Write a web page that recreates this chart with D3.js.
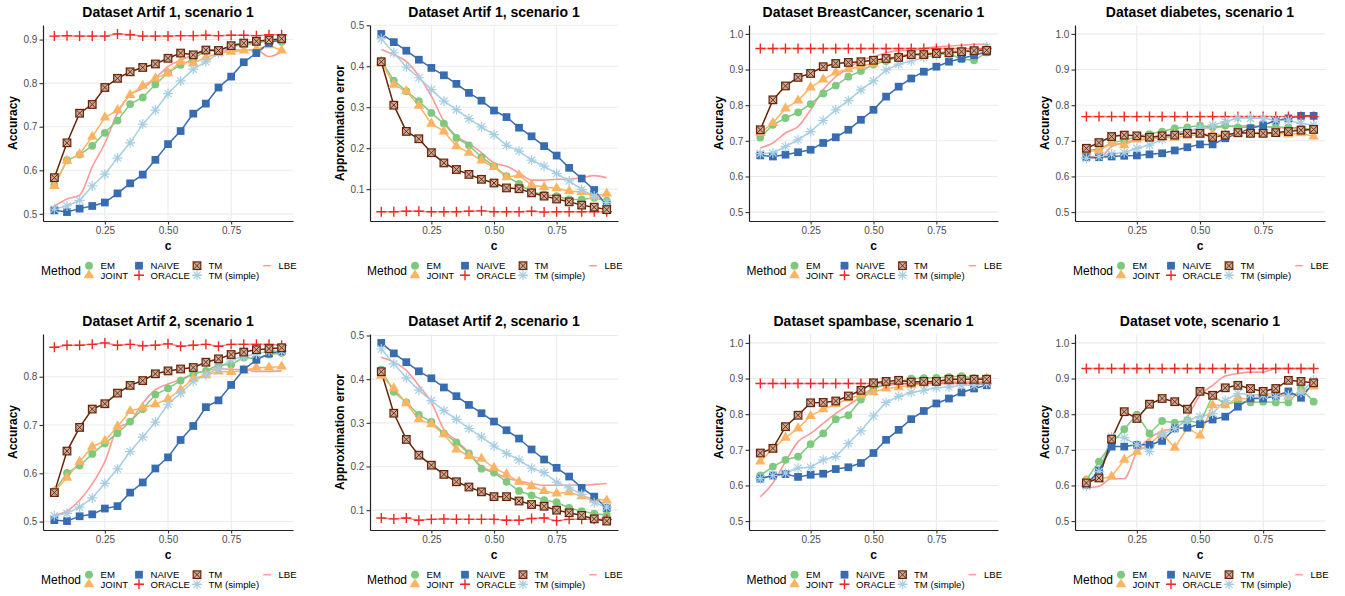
<!DOCTYPE html>
<html><head><meta charset="utf-8">
<script src="https://cdn.jsdelivr.net/npm/d3@7"></script>
<style>
body{margin:0;background:#fff}
svg{display:block}
text{font-family:"Liberation Sans",Arial,Helvetica,sans-serif}
</style>
</head><body>
<svg id="chart" width="1345" height="596"></svg>
<script>
// ---------------- DATA ----------------
const cValues = [0.05,0.10,0.15,0.20,0.25,0.30,0.35,0.40,0.45,0.50,0.55,0.60,0.65,0.70,0.75,0.80,0.85,0.90,0.95];
const methods = ["EM","JOINT","NAIVE","ORACLE","TM","TM (simple)","LBE"];
const xTickValues = [0.25,0.50,0.75];
const panelTitles = ["Dataset Artif 1, scenario 1","Dataset Artif 1, scenario 1","Dataset BreastCancer, scenario 1","Dataset diabetes, scenario 1",
                     "Dataset Artif 2, scenario 1","Dataset Artif 2, scenario 1","Dataset spambase, scenario 1","Dataset vote, scenario 1"];
const panelYLabels = ["Accuracy","Approximation error","Accuracy","Accuracy","Accuracy","Approximation error","Accuracy","Accuracy"];
const yTicksArtifAcc1 = [0.5,0.6,0.7,0.8,0.9];
const yTicksArtifAcc2 = [0.5,0.6,0.7,0.8];
const yTicksError = [0.1,0.2,0.3,0.4,0.5];
const yTicksReal = [0.5,0.6,0.7,0.8,0.9,1.0];
const yLimitsReal = [0.5,1.0];

// Panel 1: Artif 1 accuracy
const p1_EM     = [0.567,0.623,0.636,0.656,0.686,0.714,0.752,0.767,0.797,0.824,0.842,0.855,0.876,0.875,0.884,0.888,0.892,0.898,0.895];
const p1_JOINT  = [0.564,0.622,0.637,0.677,0.721,0.738,0.773,0.794,0.811,0.823,0.849,0.846,0.859,0.869,0.872,0.875,0.878,0.887,0.875];
const p1_NAIVE  = [0.508,0.504,0.512,0.518,0.526,0.547,0.570,0.590,0.624,0.660,0.690,0.730,0.753,0.790,0.815,0.848,0.869,0.892,0.901];
const p1_ORACLE = [0.908,0.909,0.908,0.908,0.908,0.913,0.911,0.908,0.908,0.908,0.909,0.909,0.910,0.909,0.910,0.910,0.909,0.911,0.911];
const p1_TM     = [0.583,0.663,0.731,0.751,0.790,0.811,0.826,0.836,0.844,0.857,0.869,0.865,0.876,0.875,0.886,0.892,0.896,0.899,0.902];
const p1_TMS    = [0.511,0.518,0.531,0.564,0.591,0.628,0.663,0.706,0.738,0.776,0.805,0.832,0.849,0.869,0.884,0.892,0.895,0.899,0.901];
const p1_LBE    = [0.518,0.534,0.543,0.608,0.662,0.731,0.773,0.788,0.811,0.838,0.853,0.865,0.876,0.872,0.876,0.876,0.876,0.861,0.872];

// Panel 2: Artif 1 approximation error
const p2_EM     = [0.414,0.365,0.339,0.315,0.286,0.260,0.225,0.207,0.178,0.156,0.132,0.113,0.093,0.087,0.083,0.075,0.075,0.079,0.072];
const p2_JOINT  = [0.411,0.355,0.339,0.304,0.260,0.241,0.205,0.189,0.170,0.154,0.129,0.134,0.110,0.105,0.102,0.095,0.093,0.083,0.089];
const p2_NAIVE  = [0.479,0.459,0.438,0.416,0.396,0.378,0.357,0.335,0.316,0.292,0.276,0.250,0.229,0.205,0.182,0.152,0.126,0.098,0.061];
const p2_ORACLE = [0.045,0.045,0.046,0.046,0.045,0.045,0.045,0.046,0.047,0.045,0.045,0.045,0.046,0.044,0.045,0.045,0.045,0.045,0.045];
const p2_TM     = [0.411,0.305,0.241,0.223,0.189,0.164,0.148,0.136,0.124,0.115,0.103,0.101,0.091,0.083,0.076,0.069,0.061,0.056,0.050];
const p2_TMS    = [0.467,0.433,0.398,0.372,0.343,0.315,0.294,0.272,0.252,0.233,0.207,0.193,0.171,0.156,0.138,0.120,0.099,0.083,0.067];
const p2_LBE    = [0.441,0.428,0.412,0.376,0.327,0.266,0.229,0.211,0.189,0.164,0.156,0.140,0.122,0.122,0.124,0.124,0.128,0.133,0.128];

// Panel 3: BreastCancer accuracy
const p3_EM     = [0.709,0.745,0.764,0.780,0.803,0.833,0.855,0.880,0.896,0.914,0.924,0.936,0.942,0.942,0.945,0.945,0.929,0.926,0.948];
const p3_JOINT  = [0.722,0.750,0.791,0.813,0.850,0.872,0.892,0.901,0.910,0.917,0.929,0.939,0.943,0.945,0.948,0.950,0.953,0.954,0.959];
const p3_NAIVE  = [0.659,0.656,0.661,0.668,0.675,0.694,0.710,0.731,0.759,0.787,0.824,0.852,0.875,0.894,0.908,0.922,0.931,0.940,0.950];
const p3_ORACLE = [0.959,0.959,0.959,0.959,0.959,0.959,0.959,0.959,0.959,0.959,0.959,0.959,0.959,0.959,0.959,0.959,0.959,0.959,0.959];
const p3_TM     = [0.731,0.815,0.854,0.878,0.889,0.908,0.917,0.920,0.922,0.926,0.931,0.934,0.942,0.942,0.945,0.947,0.950,0.953,0.954];
const p3_TMS    = [0.664,0.666,0.684,0.703,0.726,0.757,0.787,0.813,0.843,0.868,0.899,0.915,0.924,0.934,0.940,0.945,0.950,0.954,0.964];
const p3_LBE    = [0.680,0.694,0.722,0.740,0.787,0.843,0.880,0.903,0.926,0.936,0.947,0.953,0.954,0.959,0.964,0.966,0.968,0.971,0.971];

// Panel 4: diabetes accuracy
const p4_EM     = [0.673,0.676,0.695,0.701,0.712,0.719,0.726,0.735,0.738,0.743,0.738,0.743,0.738,0.738,0.740,0.738,0.738,0.735,0.732];
const p4_JOINT  = [0.670,0.673,0.693,0.688,0.704,0.707,0.710,0.709,0.714,0.718,0.719,0.716,0.721,0.721,0.719,0.721,0.718,0.721,0.712];
const p4_NAIVE  = [0.654,0.654,0.656,0.658,0.659,0.662,0.665,0.673,0.682,0.690,0.690,0.707,0.721,0.735,0.744,0.757,0.763,0.770,0.770];
const p4_ORACLE = [0.768,0.768,0.768,0.768,0.768,0.768,0.768,0.768,0.768,0.768,0.768,0.768,0.768,0.768,0.768,0.768,0.768,0.768,0.768];
const p4_TM     = [0.679,0.695,0.712,0.716,0.714,0.710,0.714,0.716,0.721,0.721,0.710,0.716,0.723,0.721,0.721,0.723,0.726,0.730,0.732];
const p4_TMS    = [0.651,0.656,0.663,0.667,0.679,0.688,0.704,0.718,0.726,0.735,0.744,0.754,0.763,0.763,0.763,0.758,0.758,0.749,0.744];
const p4_LBE    = [0.651,0.651,0.684,0.695,0.702,0.704,0.712,0.721,0.728,0.735,0.737,0.740,0.742,0.742,0.740,0.738,0.735,0.732,0.732];

// Panel 5: Artif 2 accuracy
const p5_EM     = [0.563,0.601,0.616,0.640,0.662,0.683,0.707,0.733,0.763,0.776,0.792,0.806,0.812,0.825,0.825,0.840,0.837,0.846,0.849];
const p5_JOINT  = [0.562,0.591,0.624,0.655,0.667,0.697,0.729,0.736,0.743,0.754,0.773,0.796,0.803,0.811,0.810,0.813,0.819,0.819,0.821];
const p5_NAIVE  = [0.503,0.501,0.511,0.515,0.527,0.532,0.560,0.581,0.610,0.633,0.669,0.698,0.737,0.751,0.783,0.815,0.835,0.848,0.853];
const p5_ORACLE = [0.861,0.865,0.865,0.867,0.870,0.865,0.867,0.864,0.865,0.868,0.863,0.865,0.867,0.863,0.867,0.867,0.867,0.867,0.865];
const p5_TM     = [0.560,0.646,0.695,0.733,0.744,0.766,0.782,0.792,0.806,0.812,0.816,0.819,0.830,0.837,0.846,0.851,0.856,0.858,0.860];
const p5_TMS    = [0.512,0.517,0.530,0.549,0.579,0.609,0.645,0.675,0.706,0.743,0.766,0.790,0.804,0.818,0.835,0.842,0.847,0.853,0.853];
const p5_LBE    = [0.513,0.522,0.544,0.578,0.624,0.693,0.707,0.745,0.773,0.785,0.794,0.806,0.812,0.817,0.815,0.815,0.811,0.811,0.812];

// Panel 6: Artif 2 approximation error
const p6_EM     = [0.422,0.371,0.347,0.318,0.302,0.276,0.255,0.230,0.195,0.186,0.165,0.144,0.134,0.123,0.118,0.105,0.098,0.092,0.089];
const p6_JOINT  = [0.408,0.379,0.345,0.308,0.297,0.274,0.239,0.224,0.218,0.197,0.182,0.165,0.155,0.144,0.138,0.141,0.132,0.126,0.122];
const p6_NAIVE  = [0.483,0.459,0.439,0.418,0.402,0.381,0.361,0.341,0.322,0.303,0.283,0.264,0.239,0.216,0.197,0.177,0.151,0.131,0.105];
const p6_ORACLE = [0.082,0.080,0.082,0.077,0.079,0.080,0.079,0.079,0.079,0.079,0.077,0.077,0.081,0.082,0.076,0.079,0.079,0.079,0.079];
const p6_TM     = [0.417,0.322,0.262,0.226,0.203,0.182,0.165,0.153,0.142,0.131,0.131,0.121,0.113,0.109,0.100,0.094,0.088,0.080,0.075];
const p6_TMS    = [0.469,0.435,0.403,0.375,0.351,0.328,0.308,0.287,0.268,0.247,0.230,0.215,0.196,0.186,0.164,0.151,0.136,0.117,0.107];
const p6_LBE    = [0.450,0.439,0.420,0.385,0.347,0.285,0.259,0.232,0.200,0.187,0.174,0.167,0.161,0.157,0.157,0.157,0.157,0.159,0.161];

// Panel 7: spambase accuracy
const p7_EM     = [0.628,0.653,0.672,0.681,0.716,0.746,0.786,0.797,0.841,0.872,0.884,0.890,0.900,0.901,0.902,0.904,0.907,0.901,0.902];
const p7_JOINT  = [0.667,0.704,0.734,0.760,0.795,0.814,0.828,0.844,0.853,0.862,0.872,0.876,0.881,0.886,0.890,0.895,0.898,0.898,0.900];
const p7_NAIVE  = [0.619,0.628,0.632,0.624,0.630,0.633,0.646,0.651,0.663,0.691,0.728,0.756,0.786,0.809,0.830,0.844,0.861,0.872,0.881];
const p7_ORACLE = [0.886,0.886,0.886,0.886,0.886,0.886,0.886,0.886,0.886,0.886,0.886,0.886,0.886,0.886,0.886,0.886,0.886,0.886,0.886];
const p7_TM     = [0.691,0.704,0.765,0.797,0.832,0.833,0.837,0.851,0.867,0.888,0.892,0.895,0.890,0.892,0.892,0.898,0.898,0.898,0.898];
const p7_TMS    = [0.619,0.628,0.635,0.649,0.651,0.672,0.681,0.718,0.753,0.795,0.833,0.850,0.861,0.867,0.874,0.876,0.881,0.881,0.886];
const p7_LBE    = [0.568,0.607,0.667,0.723,0.746,0.774,0.802,0.825,0.849,0.874,0.881,0.884,0.886,0.888,0.888,0.890,0.890,0.890,0.890];

// Panel 8: vote accuracy
const p8_EM     = [0.616,0.667,0.718,0.758,0.799,0.746,0.781,0.776,0.783,0.774,0.853,0.828,0.835,0.833,0.835,0.833,0.833,0.872,0.835];
const p8_JOINT  = [0.614,0.618,0.625,0.672,0.695,0.716,0.746,0.706,0.762,0.740,0.825,0.825,0.846,0.841,0.853,0.861,0.849,0.862,0.878];
const p8_NAIVE  = [0.602,0.642,0.709,0.709,0.714,0.714,0.725,0.760,0.762,0.772,0.785,0.793,0.821,0.844,0.844,0.851,0.864,0.846,0.888];
const p8_ORACLE = [0.928,0.928,0.928,0.928,0.928,0.928,0.928,0.928,0.928,0.928,0.928,0.928,0.928,0.928,0.928,0.928,0.928,0.928,0.928];
const p8_TM     = [0.607,0.621,0.730,0.807,0.788,0.828,0.844,0.835,0.814,0.864,0.853,0.874,0.881,0.872,0.864,0.872,0.895,0.892,0.888];
const p8_TMS    = [0.598,0.639,0.737,0.734,0.714,0.695,0.742,0.760,0.783,0.793,0.802,0.839,0.858,0.855,0.853,0.849,0.853,0.861,0.895];
const p8_LBE    = [0.593,0.598,0.619,0.619,0.695,0.732,0.753,0.760,0.793,0.853,0.881,0.907,0.914,0.918,0.918,0.928,0.928,0.928,0.928];

// ---------------- TABLE BUILT FROM ARRAYS ----------------
const panelSeries = [
  [p1_EM,p1_JOINT,p1_NAIVE,p1_ORACLE,p1_TM,p1_TMS,p1_LBE],
  [p2_EM,p2_JOINT,p2_NAIVE,p2_ORACLE,p2_TM,p2_TMS,p2_LBE],
  [p3_EM,p3_JOINT,p3_NAIVE,p3_ORACLE,p3_TM,p3_TMS,p3_LBE],
  [p4_EM,p4_JOINT,p4_NAIVE,p4_ORACLE,p4_TM,p4_TMS,p4_LBE],
  [p5_EM,p5_JOINT,p5_NAIVE,p5_ORACLE,p5_TM,p5_TMS,p5_LBE],
  [p6_EM,p6_JOINT,p6_NAIVE,p6_ORACLE,p6_TM,p6_TMS,p6_LBE],
  [p7_EM,p7_JOINT,p7_NAIVE,p7_ORACLE,p7_TM,p7_TMS,p7_LBE],
  [p8_EM,p8_JOINT,p8_NAIVE,p8_ORACLE,p8_TM,p8_TMS,p8_LBE]
];
const panelYTicks = [yTicksArtifAcc1,yTicksError,yTicksReal,yTicksReal,yTicksArtifAcc2,yTicksError,yTicksReal,yTicksReal];
const panelFixedLimits = [null,null,yLimitsReal,yLimitsReal,null,null,yLimitsReal,yLimitsReal];

// ---------------- STYLE / LAYOUT ----------------
const colors = {"EM":"#7FC97F","JOINT":"#FDB462","NAIVE":"#386CB0","ORACLE":"#EE2A24","TM":"#662506","TM (simple)":"#A6CEE3","LBE":"#FB9A99"};
const lineOrder  = ["LBE","TM (simple)","EM","JOINT","NAIVE","ORACLE","TM"];
const pointOrder = ["EM","JOINT","NAIVE","ORACLE","TM (simple)","TM"];
const colLeft  = [43,370,749,1075];
const colRight = [293,618,998,1325];
const rowTop    = [25,334];
const rowBottom = [221,530];

const svg = d3.select("#chart");
svg.append("rect").attr("width",1345).attr("height",596).attr("fill","#fff");

function expand(lo,hi){ const d=(hi-lo)*0.05; return [lo-d,hi+d]; }

function drawMarker(g, method, x, y){
  const col = colors[method];
  const m = g.append("g").attr("transform",`translate(${x},${y})`);
  if(method==="EM"){
    m.append("circle").attr("r",3.9).attr("fill",col);
  } else if(method==="JOINT"){
    m.append("path").attr("d",d3.symbol(d3.symbolTriangle,48)()).attr("fill",col);
  } else if(method==="NAIVE"){
    m.append("path").attr("d",d3.symbol(d3.symbolSquare,60)()).attr("fill",col);
  } else if(method==="ORACLE"){
    m.append("path").attr("d","M-5,0H5M0,-5V5").attr("stroke",col).attr("stroke-width",1.4).attr("fill","none");
  } else if(method==="TM"){
    m.append("rect").attr("x",-3.8).attr("y",-3.8).attr("width",7.6).attr("height",7.6)
      .attr("fill","#caa99b").attr("stroke",col).attr("stroke-width",1.2);
    m.append("path").attr("d","M-3.8,-3.8L3.8,3.8M-3.8,3.8L3.8,-3.8").attr("stroke",col).attr("stroke-width",0.9);
  } else if(method==="TM (simple)"){
    m.append("path").attr("d","M-5,0H5M0,-5V5M-3.6,-3.6L3.6,3.6M-3.6,3.6L3.6,-3.6")
      .attr("stroke",col).attr("stroke-width",1.2).attr("fill","none");
  }
}

panelSeries.forEach((series, pi) => {
  const col = pi % 4, row = Math.floor(pi/4);
  const L = colLeft[col], R = colRight[col], T = rowTop[row], B = rowBottom[row];
  const x = d3.scaleLinear().domain(expand(d3.min(cValues), d3.max(cValues))).range([L,R]);
  let yDom;
  if(panelFixedLimits[pi]) yDom = expand(panelFixedLimits[pi][0], panelFixedLimits[pi][1]);
  else yDom = expand(d3.min(series.flat()), d3.max(series.flat()));
  const y = d3.scaleLinear().domain(yDom).range([B,T]);
  const g = svg.append("g");

  // grid
  g.selectAll(".gx").data(xTickValues).join("line")
    .attr("x1",d=>x(d)).attr("x2",d=>x(d)).attr("y1",T).attr("y2",B)
    .attr("stroke","#EBEBEB").attr("stroke-width",1.1);
  g.selectAll(".gy").data(panelYTicks[pi]).join("line")
    .attr("x1",L).attr("x2",R).attr("y1",d=>y(d)).attr("y2",d=>y(d))
    .attr("stroke","#EBEBEB").attr("stroke-width",1.1);

  const byMethod = {};
  series.forEach((vals, si) => { byMethod[methods[si]] = vals.map((v,i)=>[cValues[i], v]); });

  // lines
  lineOrder.forEach(mth => {
    const line = d3.line().x(d=>x(d[0])).y(d=>y(d[1]))
      .curve(mth==="LBE" ? d3.curveMonotoneX : d3.curveLinear);
    g.append("path").attr("d", line(byMethod[mth])).attr("fill","none")
      .attr("stroke", colors[mth]).attr("stroke-width", mth==="LBE"?1.6:1.5)
      .attr("stroke-opacity", mth==="ORACLE"?0.55:1);
  });
  // points
  pointOrder.forEach(mth => {
    byMethod[mth].forEach(p => drawMarker(g, mth, x(p[0]), y(p[1])));
  });

  // axes
  const ax = g.append("g").attr("transform",`translate(0,${B})`)
    .call(d3.axisBottom(x).tickValues(xTickValues).tickFormat(d3.format(".2f")).tickSize(3.5).tickSizeOuter(0).tickPadding(2.4));
  const ay = g.append("g").attr("transform",`translate(${L},0)`)
    .call(d3.axisLeft(y).tickValues(panelYTicks[pi]).tickFormat(d3.format(".1f")).tickSize(3.5).tickSizeOuter(0).tickPadding(2.2));
  [ax,ay].forEach(a => {
    a.select(".domain").attr("stroke","#222").attr("stroke-width",1.2);
    a.selectAll(".tick line").attr("stroke","#333").attr("stroke-width",1.1);
    a.selectAll(".tick text").attr("fill","#4D4D4D").style("font-size","10px")
      .style("font-family","'Liberation Sans',Arial,Helvetica,sans-serif");
  });

  // titles
  g.append("text").attr("x",(L+R)/2).attr("y",T-8).attr("text-anchor","middle")
    .style("font-size","14px").style("font-weight","bold").attr("fill","#000").text(panelTitles[pi]);
  g.append("text").attr("x",(L+R)/2).attr("y",B+29).attr("text-anchor","middle")
    .style("font-size","12px").style("font-weight","bold").attr("fill","#000").text("c");
  g.append("text").attr("transform",`translate(${L-26},${(T+B)/2}) rotate(-90)`).attr("text-anchor","middle")
    .style("font-size","12px").style("font-weight","bold").attr("fill","#000").text(panelYLabels[pi]);

  // legend (one per panel, centred under it)
  const lx = (L+R)/2 - 127;
  const lg = g.append("g");
  const rowY = [B+44.7, B+54.3];
  lg.append("text").attr("x",lx).attr("y",(rowY[0]+rowY[1])/2).attr("dy","0.35em")
    .style("font-size","12px").attr("fill","#000").text("Method");
  const keyCols = [48, 98, 156, 226];
  methods.forEach((m, mi) => {
    const kc = Math.floor(mi/2), kr = mi % 2;
    const kx = lx + keyCols[kc], ky = rowY[kr];
    lg.append("line").attr("x1",kx-3.8).attr("x2",kx+3.8).attr("y1",ky).attr("y2",ky)
      .attr("stroke",colors[m]).attr("stroke-width",1.5).attr("stroke-opacity", m==="ORACLE"?0.55:1);
    if(m!=="LBE") drawMarker(lg, m, kx, ky);
    lg.append("text").attr("x",kx+11.5).attr("y",ky).attr("dy","0.35em")
      .style("font-size","9.6px").attr("fill","#000").text(m);
  });
});
</script>
</body></html>
